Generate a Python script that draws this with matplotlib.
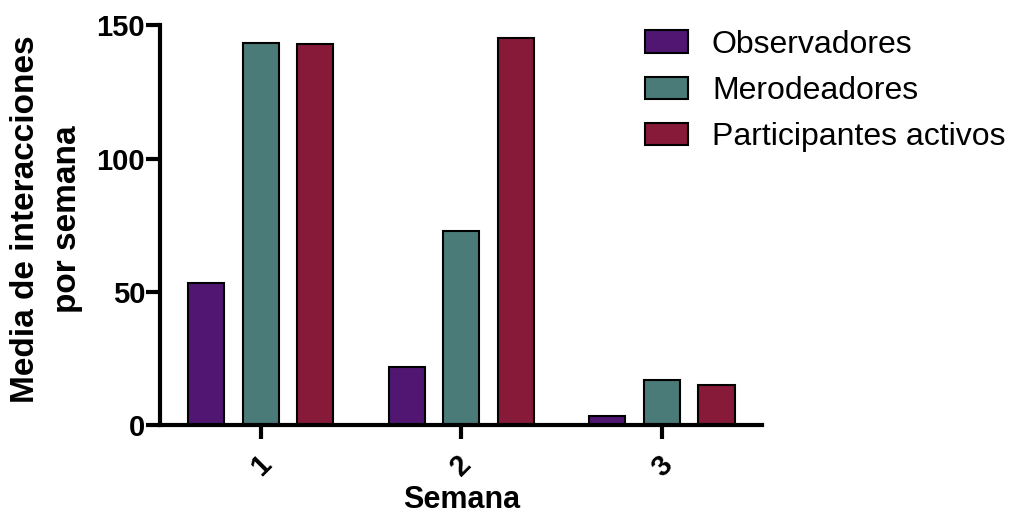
import numpy as np
import matplotlib.pyplot as plt
from matplotlib.patches import Patch

weeks = ["1", "2", "3"]
series_names = ["Observadores", "Merodeadores", "Participantes activos"]
observadores = [53.3, 21.8, 3.7]
merodeadores = [143.3, 72.7, 17.0]
participantes = [142.8, 145.1, 15.0]
colors = ["#501672", "#4A7B78", "#861A38"]

plt.rcParams["font.family"] = ["Liberation Sans", "DejaVu Sans"]

fig = plt.figure(figsize=(10.15, 5.18), dpi=100)
ax = fig.add_axes([0.158, 0.1786, 0.593, 0.7731])

x = np.arange(1, len(weeks) + 1)
width = 0.18
offset = 0.272
for i, (vals, c) in enumerate(zip([observadores, merodeadores, participantes], colors)):
    ax.bar(x + (i - 1) * offset, vals, width, color=c, edgecolor="black", linewidth=1.5, zorder=2)

ax.set_xlim(0.5, 3.5)
ax.set_ylim(0, 150)
ax.set_yticks([0, 50, 100, 150])
ax.set_xticks(x)
ax.set_xticklabels(weeks, rotation=45, ha="center", va="top")

for s in ["top", "right"]:
    ax.spines[s].set_visible(False)
for s in ["left", "bottom"]:
    ax.spines[s].set_linewidth(3)
ax.tick_params(axis="both", width=3, length=10, labelsize=21, direction="out")
for lab in ax.get_xticklabels() + ax.get_yticklabels():
    lab.set_fontweight("bold")
ax.tick_params(axis="x", pad=8)
ax.tick_params(axis="y", pad=1)

ax.set_xlabel("Semana", fontsize=22, fontweight="bold", labelpad=2)
ax.set_ylabel("Media de interacciones\npor semana", fontsize=24, fontweight="bold",
              linespacing=1.45, labelpad=10, y=0.515)

handles = [Patch(facecolor=c, edgecolor="black", linewidth=1.5) for c in colors]
fig.legend(handles, series_names, loc="upper left", bbox_to_anchor=(0.607, 0.998),
           frameon=False, fontsize=23, handlelength=1.35, handleheight=0.7,
           handletextpad=0.75, labelspacing=0.51)

fig.savefig("out.png", dpi=100)
